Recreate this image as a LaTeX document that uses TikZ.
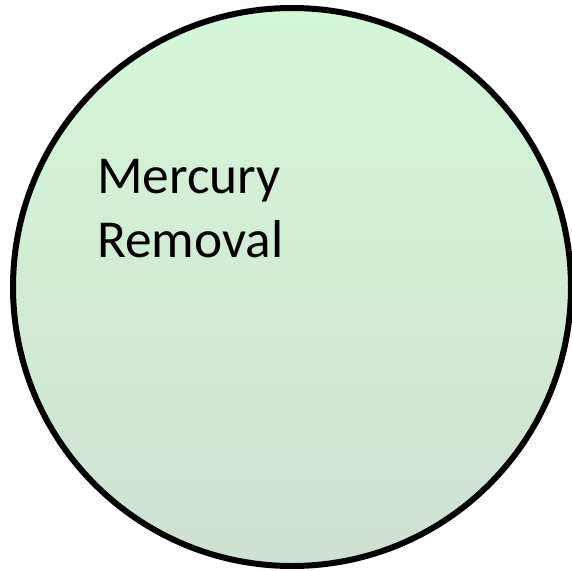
\documentclass[tikz,border=0pt]{standalone}
\usepackage{fontspec}
\setmainfont{Carlito}
\usepackage{tikz}

\definecolor{mintTop}{RGB}{212,247,216}
\definecolor{mintBottom}{RGB}{208,224,212}

\begin{document}
\begin{tikzpicture}[
    x=0.75pt, y=-0.75pt,
    disc/.style={
        circle,
        draw=black,
        line width=4.5pt,
        top color=mintTop,
        bottom color=mintBottom,
        minimum size=418.5pt,
        inner sep=0pt
    },
    label/.style={
        align=left,
        inner sep=0pt,
        font=\fontsize{40}{47.6}\selectfont
    },
]
\useasboundingbox (0,0) rectangle (572,571);

% Circle
\node[disc] (stage) at (292,287) {};

% Text (base anchor sits on the last line)
\node[label, anchor=base west] (name) at (97,257) {Mercury\\Removal};

\end{tikzpicture}
\end{document}
